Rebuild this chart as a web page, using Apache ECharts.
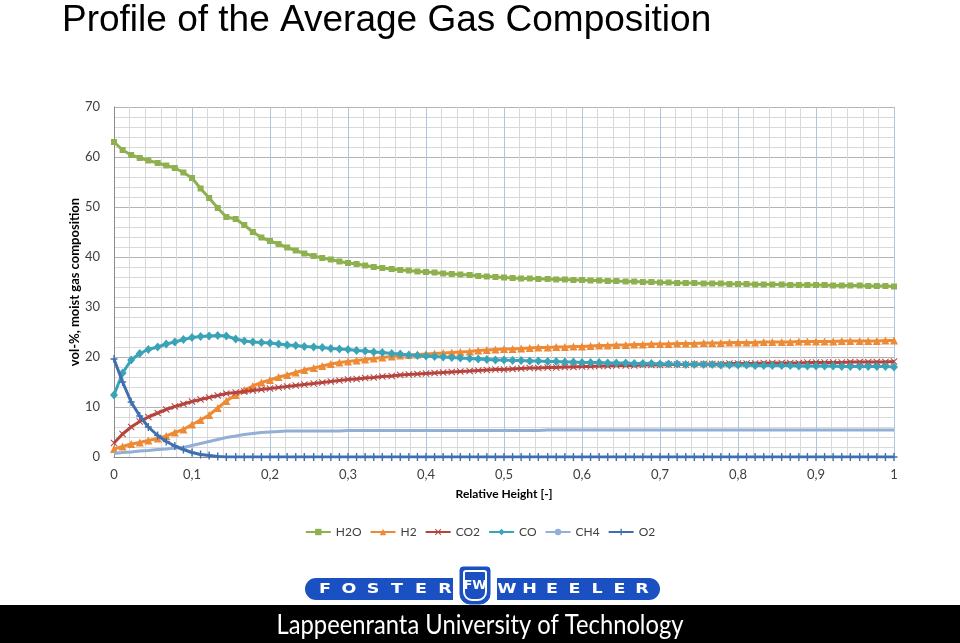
<!DOCTYPE html>
<html>
<head>
<meta charset="utf-8">
<script src="https://cdn.jsdelivr.net/npm/echarts@6/dist/echarts.min.js"></script>
<style>html,body{margin:0;padding:0;background:#fff;}#c{width:960px;height:643px;}</style>
</head>
<body>
<div id="c"></div>
<script>
// Relative height (x values)
const heights = [0.000,0.011,0.022,0.033,0.044,0.056,0.067,0.078,0.089,0.100,
0.111,0.122,0.133,0.144,0.156,0.167,0.178,0.189,0.200,0.211,
0.222,0.233,0.244,0.256,0.267,0.278,0.289,0.300,0.311,0.322,
0.333,0.344,0.356,0.367,0.378,0.389,0.400,0.411,0.422,0.433,
0.444,0.456,0.467,0.478,0.489,0.500,0.511,0.522,0.533,0.544,
0.556,0.567,0.578,0.589,0.600,0.611,0.622,0.633,0.644,0.656,
0.667,0.678,0.689,0.700,0.711,0.722,0.733,0.744,0.756,0.767,
0.778,0.789,0.800,0.811,0.822,0.833,0.844,0.856,0.867,0.878,
0.889,0.900,0.911,0.922,0.933,0.944,0.956,0.967,0.978,0.989,1.000];

const h2o = [63.0,61.4,60.4,59.8,59.3,58.8,58.3,57.8,56.9,55.8,
53.7,51.8,49.8,48.0,47.6,46.4,45.0,43.9,43.2,42.6,
41.9,41.3,40.7,40.2,39.8,39.5,39.1,38.8,38.6,38.3,
38.0,37.8,37.6,37.4,37.3,37.1,37.0,36.9,36.7,36.6,
36.5,36.4,36.2,36.1,36.0,35.9,35.8,35.7,35.7,35.6,
35.6,35.5,35.5,35.4,35.4,35.3,35.3,35.2,35.2,35.1,
35.1,35.0,35.0,34.9,34.9,34.8,34.8,34.8,34.7,34.7,
34.7,34.6,34.6,34.6,34.5,34.5,34.5,34.5,34.4,34.4,
34.4,34.4,34.4,34.3,34.3,34.3,34.3,34.2,34.2,34.2,34.1];

const h2 = [1.6,2.1,2.6,2.9,3.3,3.7,4.2,4.9,5.5,6.5,
7.4,8.4,9.8,11.2,12.4,13.4,14.2,14.9,15.4,16.0,
16.4,16.9,17.4,17.8,18.2,18.6,18.9,19.1,19.3,19.5,
19.7,19.9,20.1,20.3,20.4,20.5,20.6,20.7,20.8,20.9,
21.0,21.1,21.3,21.4,21.5,21.6,21.6,21.7,21.8,21.9,
21.9,22.0,22.0,22.1,22.1,22.2,22.3,22.3,22.4,22.4,
22.5,22.5,22.6,22.6,22.6,22.7,22.7,22.7,22.8,22.8,
22.8,22.9,22.9,22.9,22.9,23.0,23.0,23.0,23.0,23.1,
23.1,23.1,23.1,23.1,23.2,23.2,23.2,23.2,23.2,23.3,23.3];

const co2 = [2.8,4.6,6.0,7.1,8.0,8.8,9.5,10.1,10.6,11.1,
11.5,11.9,12.3,12.7,12.9,13.1,13.3,13.5,13.7,13.9,
14.1,14.3,14.5,14.7,14.9,15.1,15.3,15.5,15.6,15.8,
15.9,16.1,16.2,16.4,16.5,16.6,16.7,16.8,16.9,17.0,
17.1,17.2,17.3,17.4,17.5,17.5,17.6,17.7,17.8,17.8,
17.9,17.9,18.0,18.0,18.1,18.1,18.2,18.2,18.3,18.3,
18.3,18.4,18.4,18.4,18.5,18.5,18.5,18.6,18.6,18.6,
18.6,18.7,18.7,18.7,18.7,18.8,18.8,18.8,18.8,18.8,
18.9,18.9,18.9,18.9,18.9,19.0,19.0,19.0,19.0,19.0,19.1];

const co = [12.4,16.8,19.4,20.7,21.5,22.0,22.6,23.0,23.5,23.9,
24.1,24.2,24.3,24.2,23.6,23.2,23.0,22.9,22.8,22.6,
22.4,22.3,22.1,22.0,21.9,21.7,21.6,21.5,21.3,21.2,
21.0,20.9,20.7,20.6,20.4,20.3,20.2,20.1,20.0,19.9,
19.8,19.7,19.6,19.5,19.4,19.4,19.3,19.3,19.2,19.2,
19.1,19.1,19.0,19.0,18.9,18.9,18.9,18.8,18.8,18.8,
18.7,18.7,18.7,18.6,18.6,18.6,18.5,18.5,18.5,18.5,
18.4,18.4,18.4,18.4,18.3,18.3,18.3,18.3,18.3,18.2,
18.2,18.2,18.2,18.2,18.1,18.1,18.1,18.1,18.1,18.1,18.0];

const ch4 = [0.7,0.9,1.0,1.2,1.3,1.5,1.6,1.8,1.9,2.3,
2.7,3.1,3.5,3.9,4.2,4.5,4.7,4.9,5.0,5.1,
5.2,5.2,5.2,5.2,5.2,5.2,5.2,5.3,5.3,5.3,
5.3,5.3,5.3,5.3,5.3,5.3,5.3,5.3,5.3,5.3,
5.3,5.3,5.3,5.3,5.3,5.3,5.3,5.3,5.3,5.3,
5.4,5.4,5.4,5.4,5.4,5.4,5.4,5.4,5.4,5.4,
5.4,5.4,5.4,5.4,5.4,5.4,5.4,5.4,5.4,5.4,
5.4,5.4,5.4,5.4,5.4,5.4,5.4,5.4,5.4,5.4,
5.4,5.4,5.4,5.4,5.4,5.4,5.4,5.4,5.4,5.4,5.4];

const o2 = [19.6,15.0,11.0,8.2,6.0,4.3,3.1,2.2,1.5,0.9,
0.5,0.3,0.1,0,0,0,0,0,0,0,
0,0,0,0,0,0,0,0,0,0,
0,0,0,0,0,0,0,0,0,0,
0,0,0,0,0,0,0,0,0,0,
0,0,0,0,0,0,0,0,0,0,
0,0,0,0,0,0,0,0,0,0,
0,0,0,0,0,0,0,0,0,0,
0,0,0,0,0,0,0,0,0,0,0];

const seriesNames = ['H2O','H2','CO2','CO','CH4','O2'];
const seriesValues = [h2o, h2, co2, co, ch4, o2];
const colors = ['#8fb04f','#ee8a35','#b5443f','#3ba3b8','#93afd6','#3f6fb0'];
const symbols = ['rect','triangle',
  'path://M1,0 L5,4 L9,0 L10,1 L6,5 L10,9 L9,10 L5,6 L1,10 L0,9 L4,5 L0,1 Z',
  'diamond','none',
  'path://M4,0 H6 V4 H10 V6 H6 V10 H4 V6 H0 V4 H4 Z'];
const symbolSizes = [6,8,7,[8,9],0,[7,8]];

// Tick labels (shown only at major ticks)
const xTickLabels = ['0','0,1','0,2','0,3','0,4','0,5','0,6','0,7','0,8','0,9','1'];
const yTickLabels = ['0','10','20','30','40','50','60','70'];

const isMajor = (v, step) => Math.abs(v / step - Math.round(v / step)) < 1e-6;
const fmtX = v => isMajor(v, 0.1) ? xTickLabels[Math.round(v * 10)] : '';
const fmtY = v => isMajor(v, 10) ? yTickLabels[Math.round(v / 10)] : '';

const chart = echarts.init(document.getElementById('c'), null, {renderer:'canvas'});

const foster = ['F','O','S','T','E','R'];
const wheeler = ['W','H','E','E','L','E','R'];
const graphics = [
  {type:'rect', shape:{x:0,y:605,width:960,height:38}, style:{fill:'#000'}},
  {type:'text', x:480, y:625, scaleX:0.88, style:{text:'Lappeenranta University of Technology', fill:'#fff',
    font:'27px Lato, "Open Sans", sans-serif', textAlign:'center', textVerticalAlign:'middle'}},
  {type:'rect', shape:{x:305,y:578,width:355,height:22,r:11}, style:{fill:'#1b50c2'}},
  {type:'rect', shape:{x:453,y:566,width:44,height:39}, style:{fill:'#fff'}},
  {type:'rect', shape:{x:460,y:567,width:30,height:37,r:[3,3,10,10]}, style:{fill:'#1b50c2', stroke:'#1b50c2', lineWidth:1}},
  {type:'rect', shape:{x:464,y:571,width:22,height:29,r:[2,2,8,8]}, style:{fill:'#1b50c2', stroke:'#fff', lineWidth:2}},
  {type:'text', x:475, y:586, style:{text:'FW', fill:'#fff', font:'bold 13px "DejaVu Sans", sans-serif', textAlign:'center', textVerticalAlign:'middle'}}
];
foster.forEach((ch,k)=>graphics.push({type:'text', x:325+k*24, y:589, scaleX:1.25,
  style:{text:ch, fill:'#fff', font:'bold 14px "DejaVu Sans", sans-serif', textAlign:'center', textVerticalAlign:'middle'}}));
wheeler.forEach((ch,k)=>graphics.push({type:'text', x:507+k*22.5, y:589, scaleX:1.25,
  style:{text:ch, fill:'#fff', font:'bold 14px "DejaVu Sans", sans-serif', textAlign:'center', textVerticalAlign:'middle'}}));

const labelFont = {fontFamily:'Lato, "Open Sans", sans-serif', fontSize:13, color:'#404040'};

chart.setOption({
  animation:false,
  backgroundColor:'#fff',
  title:{text:'Profile of the Average Gas Composition', left:57, top:-3,
    textStyle:{fontFamily:'"Liberation Sans", Arial, sans-serif', fontWeight:'normal', fontSize:37, color:'#000'}},
  grid:{left:114, right:66, top:107, bottom:186, containLabel:false},
  legend:{data:seriesNames, left:'center', top:521, itemWidth:25, itemHeight:8, itemGap:8,
    textStyle:{fontFamily:'Lato, "Open Sans", sans-serif', fontSize:12, color:'#404040'}},
  xAxis:{type:'value', min:0, max:1, interval:0.02,
    name:'Relative Height [-]', nameLocation:'middle', nameGap:31, nameMoveOverlap:false,
    nameTextStyle:{fontFamily:'Lato, "Open Sans", sans-serif', fontSize:12, fontWeight:'bold', color:'#000'},
    axisLine:{show:true, lineStyle:{color:'#8c8c8c', width:1}},
    axisTick:{show:false},
    axisLabel:Object.assign({margin:11, formatter:fmtX, showMinLabel:true, showMaxLabel:true, hideOverlap:false}, labelFont),
    splitLine:{show:true, lineStyle:{color:['#aec5e2','#d9d9d9','#d9d9d9','#d9d9d9','#d9d9d9'], width:1}}},
  yAxis:{type:'value', min:0, max:70, interval:2,
    name:'vol-%, moist gas composition', nameLocation:'middle', nameGap:33, nameMoveOverlap:false,
    nameTextStyle:{fontFamily:'Lato, "Open Sans", sans-serif', fontSize:13, fontWeight:'bold', color:'#000'},
    axisLine:{show:true, lineStyle:{color:'#8c8c8c', width:1}},
    axisTick:{show:false},
    axisLabel:Object.assign({margin:14, formatter:fmtY, showMinLabel:true, showMaxLabel:true, hideOverlap:false}, labelFont),
    splitLine:{show:true, lineStyle:{color:['#b3b3b3','#d9d9d9','#d9d9d9','#d9d9d9','#d9d9d9'], width:1}}},
  graphic:graphics,
  series: seriesNames.map((name,s)=>({
    name, type:'line',
    data: heights.map((x,i)=>[x, seriesValues[s][i]]),
    showSymbol: symbols[s] !== 'none',
    symbol: symbols[s],
    symbolSize: symbolSizes[s],
    lineStyle:{color:colors[s], width:3},
    itemStyle:{color:colors[s], borderWidth:0},
    emphasis:{disabled:true},
    z: 2 + s
  }))
});
</script>
</body>
</html>
